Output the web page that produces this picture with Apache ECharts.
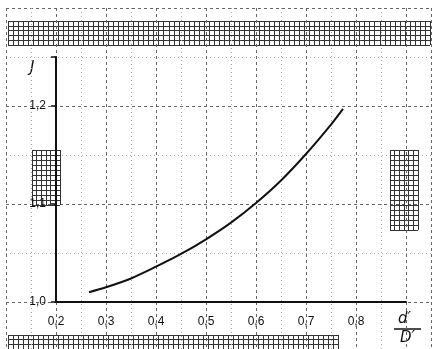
<!DOCTYPE html>
<html><head><meta charset="utf-8">
<script src="https://cdn.jsdelivr.net/npm/echarts@6/dist/echarts.min.js"></script>
<style>html,body{margin:0;padding:0;background:#fff}#c{width:438px;height:349px}</style>
</head><body><div id="c"></div>
<script>
// data
var ratio = [0.266, 0.30, 0.35, 0.40, 0.45, 0.50, 0.55, 0.60, 0.65, 0.70, 0.75, 0.774];
var J     = [1.010, 1.015, 1.024, 1.036, 1.049, 1.064, 1.081, 1.101, 1.124, 1.151, 1.181, 1.197];
var xTickLabels = ['0,2', '0,3', '0,4', '0,5', '0,6', '0,7', '0,8'];
var yTickLabels = ['1,0', '1,1', '1,2'];

var chart = echarts.init(document.getElementById('c'), null, {renderer: 'canvas'});
var hand = 'italic 13px "DejaVu Sans"';
function lbl(list, start) {
  return function (v) {
    var i = Math.round((v - start) * 10);
    if (Math.abs((v - start) * 10 - i) > 1e-6) return '';
    return list[i] || '';
  };
}
function paperAxis(idx, mn, mx, iv, st, inv) {
  return {type: 'value', gridIndex: idx, min: mn, max: mx, interval: iv, inverse: !!inv,
    axisLine: {show: false}, axisTick: {show: false}, axisLabel: {show: false},
    splitLine: {show: true, lineStyle: {color: st.c, width: st.w, type: st.t}},
    minorTick: {show: false, splitNumber: 2},
    minorSplitLine: {show: !!st.minor, lineStyle: {color: '#aaa', width: 1, type: [1, 3]}},
    silent: true};
}
var hatch = {c: '#333', w: 1, t: 'solid'};
var paper = {c: '#666', w: 1, t: [3, 3], minor: true};
var option = {
  backgroundColor: '#fff',
  animation: false,
  grid: [
    {left: 6, width: 425, top: 8, height: 341},     // graph paper (0.1..0.95 by 1.3..0.952)
    {left: 56, right: 32, top: 57, bottom: 47},     // chart axes
    {left: 8, right: 8, top: 21, bottom: 304},      // top hatch band
    {left: 8, right: 100, top: 335, bottom: 0},     // bottom hatch band
    {left: 32, width: 28, top: 150, height: 55},    // left hatch patch
    {left: 390, width: 28, top: 150, height: 80}    // right hatch patch
  ],
  xAxis: [
    paperAxis(0, 0.1, 0.95, 0.1, paper),
    {type: 'value', gridIndex: 1, min: 0.2, max: 0.9, interval: 0.1,
      axisLine: {show: true, onZero: false, lineStyle: {color: '#111', width: 2}},
      axisTick: {show: false}, splitLine: {show: false},
      axisLabel: {formatter: lbl(xTickLabels, 0.2), font: hand, color: '#111', margin: 14}},
    paperAxis(2, 0, 84, 1, hatch),
    paperAxis(3, 0, 66, 1, hatch),
    paperAxis(4, 0, 6, 1, hatch),
    paperAxis(5, 0, 6, 1, hatch)
  ],
  yAxis: [
    paperAxis(0, -1.3, -0.952, 0.1, paper, true),
    {type: 'value', gridIndex: 1, min: 1.0, max: 1.25, interval: 0.1,
      axisLine: {show: true, onZero: false, lineStyle: {color: '#111', width: 2}},
      axisTick: {show: true, length: 5, lineStyle: {color: '#111', width: 1.5}},
      splitLine: {show: false},
      axisLabel: {formatter: lbl(yTickLabels, 1.0), font: hand, color: '#111', margin: 10, padding: [0, 0, 4, 0]}},
    paperAxis(2, 0, 5, 1, hatch),
    paperAxis(3, 0, 3, 1, hatch),
    paperAxis(4, 0, 11, 1, hatch),
    paperAxis(5, 0, 16, 1, hatch)
  ],
  series: [{
    type: 'line', xAxisIndex: 1, yAxisIndex: 1,
    data: ratio.map(function (r, i) { return [r, J[i]]; }),
    smooth: 0.3, showSymbol: false,
    lineStyle: {color: '#111', width: 2}
  }],
  graphic: [
    {type: 'text', left: 30, top: 61, style: {text: 'J', font: 'italic 15px "DejaVu Sans"', fill: '#111'}},
    {type: 'text', left: 398, top: 312, style: {text: 'd\u2032', font: 'italic 15px "DejaVu Sans"', fill: '#111'}},
    {type: 'line', shape: {x1: 394, y1: 329, x2: 421, y2: 329}, style: {stroke: '#111', lineWidth: 1.5}},
    {type: 'text', left: 400, top: 331, style: {text: 'D\u2032', font: 'italic 15px "DejaVu Sans"', fill: '#111'}}
  ]
};
chart.setOption(option);
</script></body></html>
